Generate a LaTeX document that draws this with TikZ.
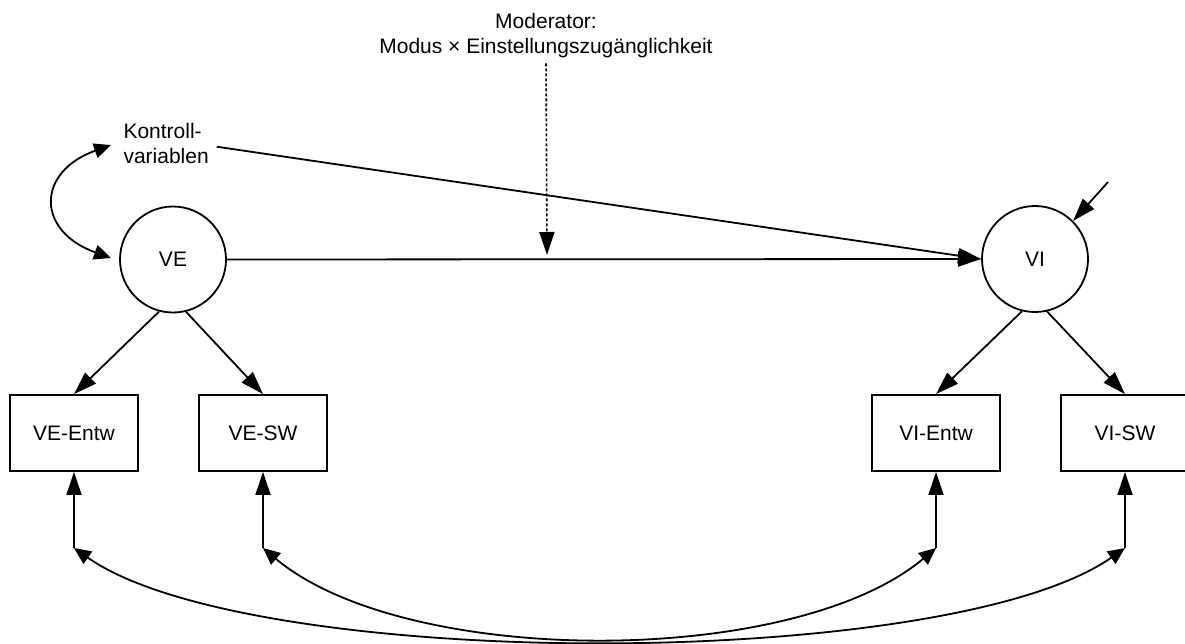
\documentclass[tikz,border=0pt]{standalone}
\usepackage{fontspec}
\setmainfont{Liberation Sans}
\usetikzlibrary{arrows.meta}
\tikzset{
  every node/.style={font=\fontsize{21}{25}\selectfont},
  latent/.style={draw, circle, line width=1.8pt, minimum size=106pt, inner sep=0pt},
  manifest/.style={draw, rectangle, line width=1.8pt, minimum width=128pt, minimum height=76pt, inner sep=0pt},
  label/.style={inner sep=0pt},
  arr/.style={line width=1.8pt, -{Triangle[length=23pt,width=15pt]}},
  curvearr/.style={line width=1.8pt, {Triangle[length=17pt,width=15pt]}-{Triangle[length=17pt,width=15pt]}},
  dotarr/.style={line width=1.6pt, dash pattern=on 3pt off 2pt, -{Triangle[length=23pt,width=15pt]}}
}
\begin{document}
\begin{tikzpicture}[x=1pt, y=-1pt]
  \useasboundingbox (0,0) rectangle (1185,643);

  % latent variables
  \node[latent] (ve) at (173,259.5) {VE};
  \node[latent] (vi) at (1035,259) {VI};

  % indicators
  \node[manifest] (veentw) at (74,433) {VE-Entw};
  \node[manifest] (vesw)   at (263,433) {VE-SW};
  \node[manifest] (vientw) at (936,433) {VI-Entw};
  \node[manifest] (visw)   at (1125,433) {VI-SW};

  % labels
  \node[label, anchor=north, align=center] (mod) at (546,13.3)
    {Moderator:\\Modus \texttimes{} Einstellungszugänglichkeit};
  \node[label, anchor=north west, align=left] (kon) at (123.3,123.3)
    {Kontroll-\\variablen};

  % free ends
  \coordinate (modend) at (547,255);
  \coordinate (konup) at (111,145);
  \coordinate (kondown) at (111,258);
  \coordinate (konstart) at (216.7,146.7);
  \coordinate (viext) at (1108,182);
  \coordinate (c1) at (74,548);
  \coordinate (c2) at (263,548);
  \coordinate (c3) at (936,548);
  \coordinate (c4) at (1125,548);

  % structural paths
  \draw[arr] (ve.east) -- (vi.west);
  \draw[arr] (konstart) -- (vi.west);
  \draw[arr] (viext) -- (vi.45);
  \draw[dotarr, shorten <=5pt] (mod.south) -- (modend);

  % loadings
  \draw[arr] (ve.-105) -- (veentw.north);
  \draw[arr] (ve.-76)  -- (vesw.north);
  \draw[arr] (vi.-104) -- (vientw.north);
  \draw[arr] (vi.-77)  -- (visw.north);

  % covariance between controls and VE
  \draw[curvearr] (konup) .. controls (36,172) and (36,231) .. (kondown);

  % residual covariances of the indicators
  \draw[arr] (c1) -- (veentw.south);
  \draw[arr] (c2) -- (vesw.south);
  \draw[arr] (c3) -- (vientw.south);
  \draw[arr] (c4) -- (visw.south);
  \draw[curvearr] (c1) .. controls (251,672) and (948,672) .. (c4);
  \draw[curvearr] (c2) .. controls (406,668) and (793,668) .. (c3);
\end{tikzpicture}
\end{document}
